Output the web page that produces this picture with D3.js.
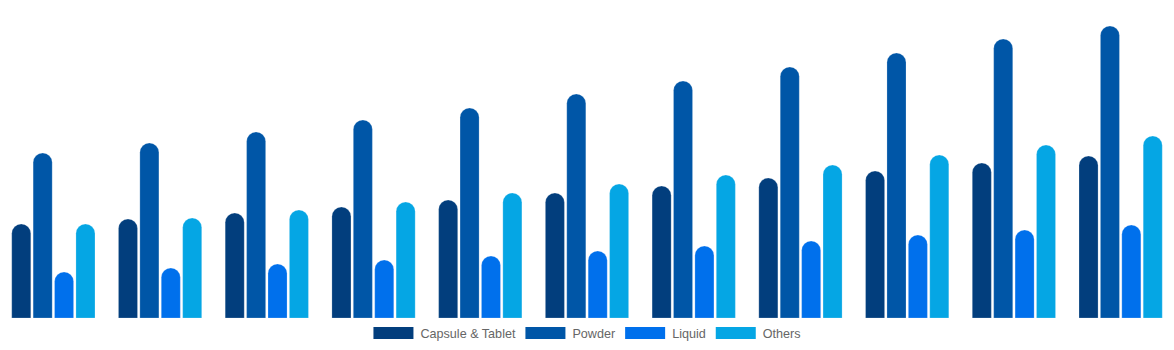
<!DOCTYPE html>
<html lang="en">
<head>
<meta charset="UTF-8">
<title></title>
<script src="https://cdn.jsdelivr.net/npm/d3@7"></script>
<style>
  body { margin: 0; background: #fff; }
  svg { display: block; }
</style>
</head>
<body>
<script type="text/javascript">

var w = 1174;
var h = 350;
var baseline = 318;

var years = ["2020", "2021", "2022", "2023", "2024", "2025", "2026", "2027", "2028", "2029", "2030"];
var seriesNames = ["Capsule & Tablet", "Powder", "Liquid", "Others"];
var colors = ["#023e7d", "#0056a7", "#0070ec", "#05a6e4"];

// values (arbitrary units)
var capsule = [9.4, 9.9, 10.5, 11.1, 11.8, 12.5, 13.2, 14.0, 14.7, 15.5, 16.2];
var powder  = [16.5, 17.5, 18.6, 19.8, 21.0, 22.4, 23.7, 25.1, 26.5, 27.9, 29.2];
var liquid  = [4.6, 5.0, 5.4, 5.8, 6.2, 6.7, 7.2, 7.7, 8.3, 8.8, 9.3];
var others  = [9.4, 10.0, 10.8, 11.6, 12.5, 13.4, 14.3, 15.3, 16.3, 17.3, 18.2];
var allSeries = [capsule, powder, liquid, others];

var svg = d3.select("body").append("svg")
    .attr("width", w)
    .attr("height", h);

var x0 = d3.scaleBand()
    .domain(years)
    .range([0, w])
    .paddingInner(0.22)
    .paddingOuter(0.11);

var x1 = d3.scaleBand()
    .domain(d3.range(seriesNames.length))
    .range([0, x0.bandwidth()])
    .paddingInner(0.11)
    .paddingOuter(0);

var y = d3.scaleLinear()
    .domain([0, 30])
    .range([baseline, 18]);

function roundTopBar(x, yTop, bw) {
    var r = bw / 2;
    return "M" + x + "," + baseline +
        "V" + (yTop + r) +
        "A" + r + "," + r + " 0 0 1 " + (x + bw) + "," + (yTop + r) +
        "V" + baseline + "Z";
}

var groups = svg.selectAll("g.year")
    .data(years)
    .enter()
    .append("g")
    .attr("class", "year")
    .attr("transform", function(d) { return "translate(" + x0(d) + ",0)"; });

groups.selectAll("path")
    .data(function(d, i) {
        return allSeries.map(function(s, k) { return { k: k, v: s[i] }; });
    })
    .enter()
    .append("path")
    .attr("d", function(d) { return roundTopBar(x1(d.k), y(d.v), x1.bandwidth()); })
    .attr("fill", function(d) { return colors[d.k]; })
    .attr("stroke", "rgba(255,255,255,0.35)")
    .attr("stroke-width", 0.6);

// legend
var legend = svg.append("g");
var boxW = 40, boxH = 12, gapText = 7, gapItem = 10;
var items = legend.selectAll("g")
    .data(seriesNames)
    .enter()
    .append("g");

items.append("rect")
    .attr("width", boxW)
    .attr("height", boxH)
    .attr("y", 327)
    .attr("fill", function(d, i) { return colors[i]; });

items.append("text")
    .text(function(d) { return d; })
    .attr("x", boxW + gapText)
    .attr("y", 337.5)
    .attr("font-family", "'Liberation Sans', Arial, sans-serif")
    .attr("font-size", "12.6px")
    .attr("fill", "#666");

var widths = [];
items.each(function() {
    widths.push(boxW + gapText + d3.select(this).select("text").node().getComputedTextLength());
});
var total = d3.sum(widths) + gapItem * (widths.length - 1);
var cur = (w - total) / 2;
items.attr("transform", function(d, i) {
    var t = "translate(" + cur + ",0)";
    cur += widths[i] + gapItem;
    return t;
});

</script>
</body>
</html>
